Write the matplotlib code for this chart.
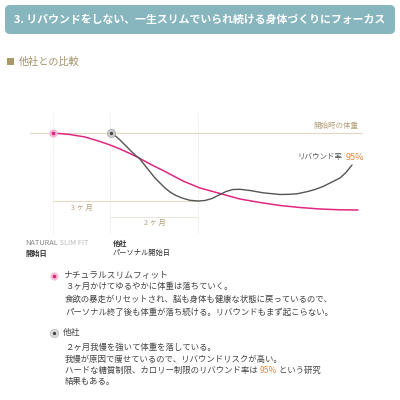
import matplotlib
matplotlib.use("Agg")
import matplotlib.pyplot as plt
from matplotlib.patches import FancyBboxPatch, Rectangle

plt.rcParams['font.family'] = ['Noto Sans CJK JP', 'DejaVu Sans']

# ---- data (time index, weight drop from start) ----
nsf_t = [0, 17, 32, 47, 57, 67, 77, 86, 97, 113, 130, 147, 167, 187, 207, 227, 247, 267, 287, 305]
nsf_drop = [0, 1.5, 4, 8.5, 12, 16, 20.5, 25, 31, 39, 48, 55, 60.5, 66, 69.5, 72.5, 74.5, 76, 76.8, 77]

other_t = [58, 62, 67, 72, 77, 82, 86, 90, 94, 98, 102, 107, 112, 117, 122, 129, 137, 145, 152,
           159, 167, 173, 180, 187, 197, 210, 227, 237, 244, 254, 262, 270, 279, 287, 293, 299]
other_drop = [0, 2.5, 7, 12, 17, 22, 25, 30, 35, 40, 45, 50, 55, 59, 62, 65, 67.3, 68, 67.5,
              65.5, 61.5, 58.5, 56.5, 56.3, 57.5, 59.8, 61.5, 61.3, 60.8, 58.7, 56.5, 53.5, 49, 45, 39.5, 32]

nsf_start, other_start, other_end = 0, 57, 145
three_month_level, two_month_level = 68, 84

title = "3. リバウンドをしない、一生スリムでいられ続ける身体づくりにフォーカス"
section = "他社との比較"
start_label = "開始時の体重"
rebound_label = "リバウンド率"
rebound_value = "95%"
nsf_lines = ["３ヶ月かけてゆるやかに体重は落ちていく。",
             "食欲の暴走がリセットされ、脳も身体も健康な状態に戻っているので、",
             "パーソナル終了後も体重が落ち続ける。リバウンドもまず起こらない。"]
other_lines = ["２ヶ月我慢を強いて体重を落している。",
               "我慢が原因で痩せているので、リバウンドリスクが高い。"]
other_last_a = "ハードな糖質制限、カロリー制限のリバウンド率は "
other_last_b = " という研究"
other_last2 = "結果もある。"

PINK = "#e0267f"
GRAY = "#555555"
TAN = "#b3a27c"
TANLINE = "#e2d9c6"
ORANGE = "#e8843a"
TXT = "#444444"

fig = plt.figure(figsize=(4, 4), dpi=100)
bg = fig.add_axes([0, 0, 1, 1])
bg.set_xlim(0, 400)
bg.set_ylim(400, 0)
bg.axis("off")

# header
bg.add_patch(FancyBboxPatch((5, 5), 390, 29, boxstyle="round,pad=0,rounding_size=5",
                            fc="#88b6bf", ec="none"))
bg.text(14, 20, title, color="white", fontsize=7.85, fontweight="bold", va="center", ha="left")

# section title
bg.add_patch(Rectangle((7, 58), 7, 7, fc="#a8986a", ec="none"))
bg.text(19, 62, section, color="#a39168", fontsize=7.3, va="center", ha="left")

# chart axes: px x 30..363, y 113..235
W, H = 400, 400
ax = fig.add_axes([30 / W, 1 - 235 / H, 333 / W, 122 / H])
ax.set_xlim(-23, 310)
ax.set_ylim(102, -20)
ax.axis("off")

for xv in (nsf_start, other_start, other_end):
    ax.plot([xv, xv], [-20, 100], color="#dddddd", lw=0.6, ls=(0, (1, 1.5)))
ax.plot([-23, 310], [0, 0], color=TANLINE, lw=0.9)
ax.plot([-23, 310], [102, 102], color="#e6e6e6", lw=0.8)
ax.plot([nsf_start, other_end], [three_month_level] * 2, color=TANLINE, lw=0.8)
ax.plot([other_start, other_end], [two_month_level] * 2, color="#ece7dc", lw=0.7)

ax.plot(nsf_t, nsf_drop, color=PINK, lw=1.1, solid_capstyle="round", zorder=3)
ax.plot(other_t, other_drop, color=GRAY, lw=1.0, solid_capstyle="round", zorder=3)
ax.plot([nsf_t[0]], [nsf_drop[0]], "o", ms=6, mfc="#f5b5d3", mec="none", zorder=4)
ax.plot([nsf_t[0]], [nsf_drop[0]], "o", ms=2.6, mfc=PINK, mec="none", zorder=5)
ax.plot([other_t[0]], [other_drop[0]], "o", ms=6, mfc="#cccccc", mec="#999999", mew=0.4, zorder=4)
ax.plot([other_t[0]], [other_drop[0]], "o", ms=2.4, mfc="#444444", mec="none", zorder=5)

# chart labels
bg.text(358, 126, start_label, color=TAN, fontsize=5.4, ha="right", va="center")
bg.text(82, 208, "3 ヶ 月", color=TAN, fontsize=5.2, ha="center", va="center")
bg.text(155, 223, "2 ヶ 月", color=TAN, fontsize=5.2, ha="center", va="center")

fig.canvas.draw()
r = fig.canvas.get_renderer()
inv = bg.transData.inverted()

def after(t):
    bb = t.get_window_extent(r)
    return inv.transform((bb.x1, 0))[0]

t95 = bg.text(364, 157.5, rebound_value, color=ORANGE, fontsize=6.5, ha="right", va="center")
bg.text(inv.transform((t95.get_window_extent(r).x0, 0))[0] - 3.5, 157.5, rebound_label,
        color="#555555", fontsize=5.4, ha="right", va="center")

tn = bg.text(25, 243, "NATURAL", color="#888888", fontsize=5.3, ha="left", va="center")
bg.text(after(tn), 243, " SLIM FIT", color="#bbbbbb", fontsize=5.3, ha="left", va="center")
bg.text(25, 253, "開始日", color="#333333", fontsize=5.2, fontweight="bold", ha="left", va="center")
bg.text(113, 243, "他社", color="#333333", fontsize=5.2, fontweight="bold", ha="left", va="center")
bg.text(113, 253, "パーソナル開始日", color="#333333", fontsize=5.2, ha="left", va="center")

# description
bg.plot([54], [276], "o", ms=6, mfc="#f7c2da", mec="none")
bg.plot([54], [276], "o", ms=2.6, mfc=PINK, mec="none")
bg.text(63, 275.5, "ナチュラルスリムフィット", color=TXT, fontsize=6.3, ha="left", va="center")
for y, s in zip([286, 299, 312], nsf_lines):
    bg.text(65, y, s, color=TXT, fontsize=6.05, ha="left", va="center")

bg.plot([54], [333], "o", ms=6, mfc="#dddddd", mec="#aaaaaa", mew=0.4)
bg.plot([54], [333], "o", ms=2.4, mfc="#444444", mec="none")
bg.text(63, 332.5, "他社", color=TXT, fontsize=6.3, ha="left", va="center")
for y, s in zip([347, 359], other_lines):
    bg.text(65, y, s, color=TXT, fontsize=6.05, ha="left", va="center")
ta = bg.text(65, 370.5, other_last_a, color=TXT, fontsize=6.05, ha="left", va="center")
tb = bg.text(after(ta), 370.5, rebound_value, color=ORANGE, fontsize=6.05, ha="left", va="center")
bg.text(after(tb), 370.5, other_last_b, color=TXT, fontsize=6.05, ha="left", va="center")
bg.text(65, 381, other_last2, color=TXT, fontsize=6.05, ha="left", va="center")

fig.savefig("out.png", dpi=100, facecolor="white")
